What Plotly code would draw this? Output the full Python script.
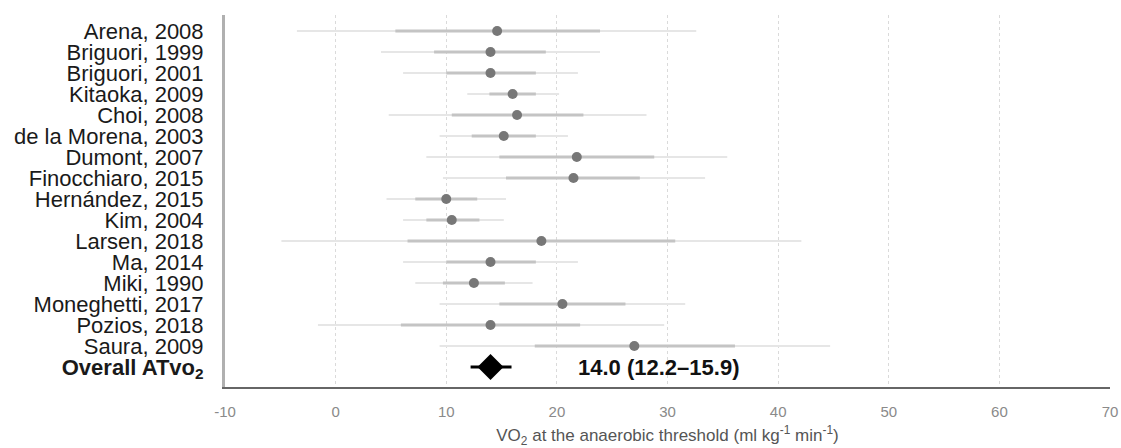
import plotly.graph_objects as go

studies = ["Arena, 2008", "Briguori, 1999", "Briguori, 2001", "Kitaoka, 2009", "Choi, 2008",
           "de la Morena, 2003", "Dumont, 2007", "Finocchiaro, 2015", "Hernández, 2015",
           "Kim, 2004", "Larsen, 2018", "Ma, 2014", "Miki, 1990", "Moneghetti, 2017",
           "Pozios, 2018", "Saura, 2009"]
estimate = [14.6, 14.0, 14.0, 16.0, 16.4, 15.2, 21.8, 21.5, 10.0, 10.5, 18.6, 14.0, 12.5, 20.5, 14.0, 27.0]
inner_lo = [5.4, 8.9, 10.0, 13.9, 10.5, 12.3, 14.8, 15.4, 7.2, 8.2, 6.5, 10.0, 9.7, 14.8, 5.9, 18.0]
inner_hi = [23.9, 19.0, 18.1, 18.1, 22.4, 18.1, 28.8, 27.5, 12.8, 13.0, 30.7, 18.1, 15.3, 26.2, 22.1, 36.1]
outer_lo = [-3.5, 4.1, 6.1, 11.9, 4.8, 9.4, 8.2, 9.7, 4.6, 6.1, -4.9, 6.1, 7.2, 9.4, -1.6, 9.4]
outer_hi = [32.6, 23.9, 21.9, 20.2, 28.1, 21.0, 35.4, 33.4, 15.4, 15.2, 42.1, 21.9, 17.8, 31.6, 29.7, 44.7]

overall_label = "Overall ATvo<sub>2</sub>"
overall_est = 14.0
overall_lo = 12.2
overall_hi = 15.9

x_ticks = [-10, 0, 10, 20, 30, 40, 50, 60, 70]

FONT = "Liberation Sans, Arial, sans-serif"
rows = list(range(len(studies)))
overall_row = len(studies)

fig = go.Figure()

# outer (light) intervals
fig.add_trace(go.Scatter(
    x=estimate, y=rows, mode="markers",
    marker=dict(size=1, color="rgba(0,0,0,0)"),
    error_x=dict(type="data", symmetric=False,
                 array=[h - e for h, e in zip(outer_hi, estimate)],
                 arrayminus=[e - l for l, e in zip(outer_lo, estimate)],
                 color="#e6e6e6", thickness=2, width=0),
    hoverinfo="skip", showlegend=False))

# inner (darker) intervals
fig.add_trace(go.Scatter(
    x=estimate, y=rows, mode="markers",
    marker=dict(size=1, color="rgba(0,0,0,0)"),
    error_x=dict(type="data", symmetric=False,
                 array=[h - e for h, e in zip(inner_hi, estimate)],
                 arrayminus=[e - l for l, e in zip(inner_lo, estimate)],
                 color="#c4c4c4", thickness=3, width=0),
    hoverinfo="skip", showlegend=False))

# point estimates
fig.add_trace(go.Scatter(
    x=estimate, y=rows, mode="markers",
    marker=dict(size=10, color="#777777"),
    showlegend=False))

# overall
fig.add_trace(go.Scatter(
    x=[overall_est], y=[overall_row], mode="markers",
    marker=dict(symbol="diamond", size=20, color="#000000"),
    error_x=dict(type="data", symmetric=False,
                 array=[overall_hi - overall_est],
                 arrayminus=[overall_est - overall_lo],
                 color="#000000", thickness=3, width=0),
    showlegend=False))

fig.add_annotation(
    x=21.7, y=overall_row, xref="x", yref="y", xanchor="left", yanchor="middle",
    text=f"<b>{overall_est:.1f} ({overall_lo:.1f}–{overall_hi:.1f})</b>",
    showarrow=False, font=dict(family=FONT, size=22, color="#111111"))

fig.update_layout(
    width=1121, height=448,
    margin=dict(l=225, r=11, t=15, b=61),
    paper_bgcolor="white", plot_bgcolor="white",
    font=dict(family=FONT),
)

fig.update_xaxes(
    range=[-10, 70], tickvals=x_ticks, ticktext=[str(t) for t in x_ticks],
    automargin=False,
    showgrid=True, gridcolor="#dadada", griddash="dot", gridwidth=1,
    zeroline=False, showline=True, linecolor="#666666", linewidth=2,
    ticks="", ticklabelstandoff=10, tickfont=dict(size=15, color="#8a8a8a"),
    title=dict(text="VO<sub>2</sub> at the anaerobic threshold (ml kg<sup>-1</sup> min<sup>-1</sup>)",
               font=dict(size=17, color="#555555"), standoff=16),
)

fig.update_yaxes(
    range=[16.95, -0.76], tickvals=rows + [overall_row],
    ticktext=studies + [f"<b>{overall_label}</b>"],
    automargin=False,
    showgrid=False, zeroline=False, showline=True, linecolor="#b0b0b0", linewidth=3,
    ticks="", ticklabelstandoff=14, tickfont=dict(size=22, color="#1a1a1a"),
)

fig.write_html("out.html")
